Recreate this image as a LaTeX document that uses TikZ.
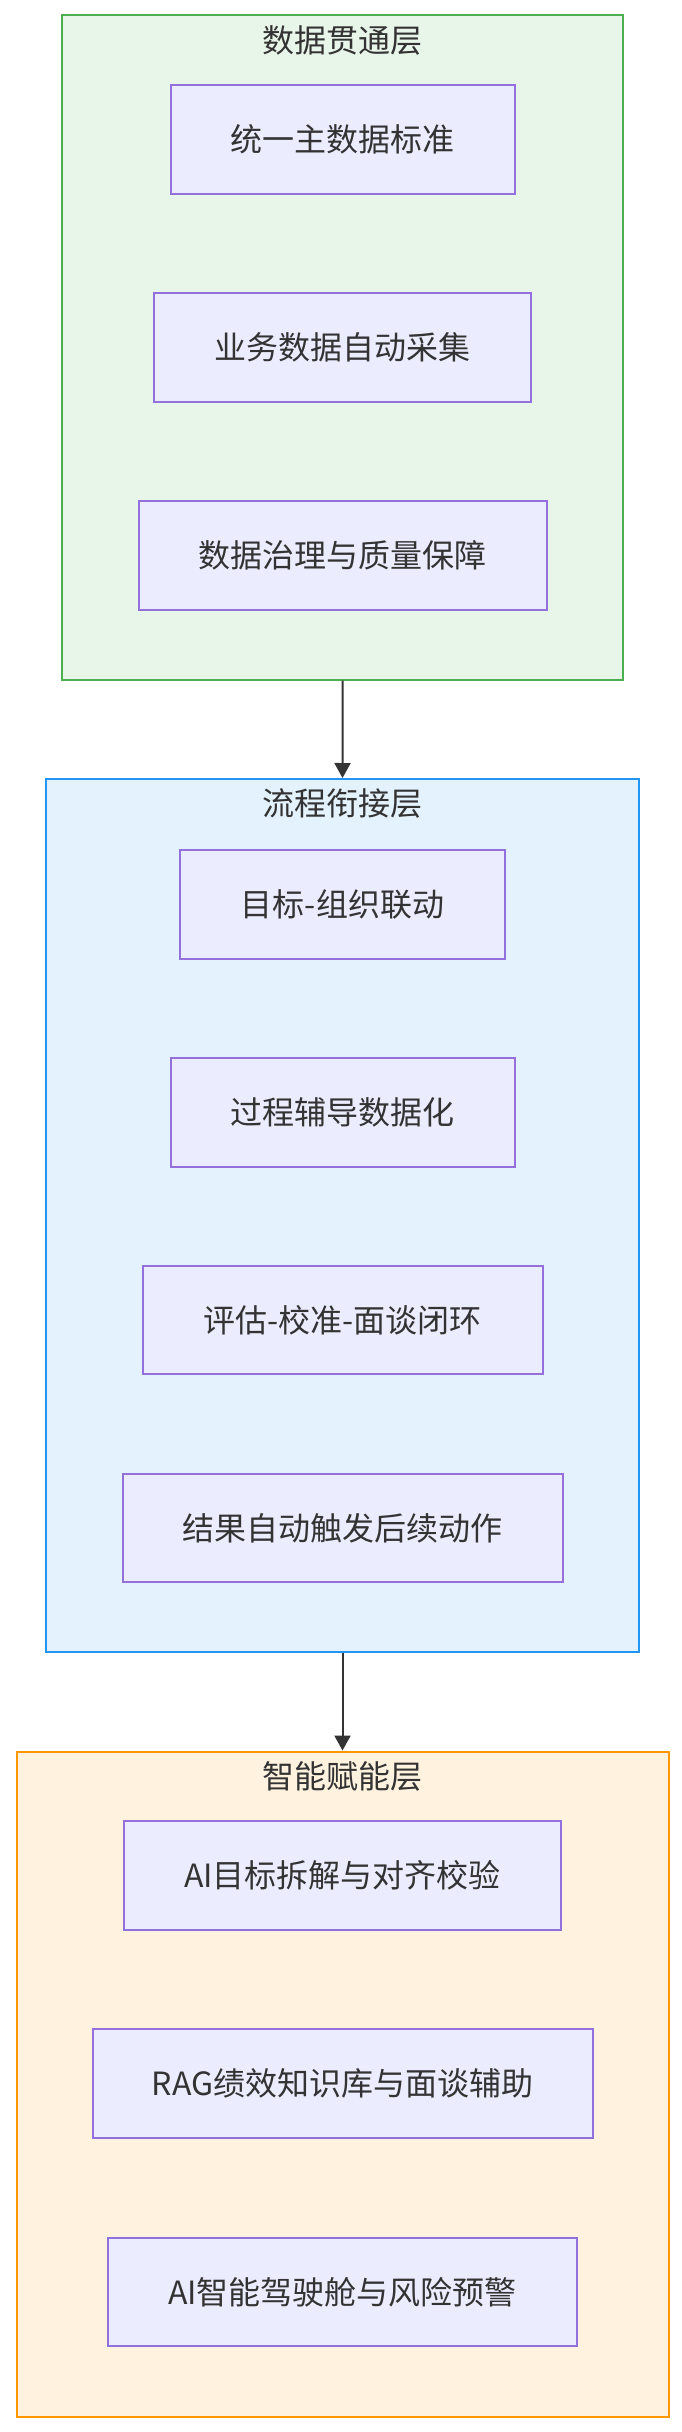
\documentclass[tikz,border=0pt]{standalone}
\usepackage{fontspec}
\setmainfont{Noto Sans CJK SC}
\usetikzlibrary{arrows.meta}
\definecolor{txt}{HTML}{333333}
\definecolor{nodeF}{HTML}{ECECFF}
\definecolor{nodeS}{HTML}{9370DB}
\definecolor{gF}{HTML}{E8F5E9}
\definecolor{gS}{HTML}{4CAF50}
\definecolor{bF}{HTML}{E3F2FD}
\definecolor{bS}{HTML}{2196F3}
\definecolor{oF}{HTML}{FFF3E0}
\definecolor{oS}{HTML}{FF9800}
\begin{document}
\begin{tikzpicture}[x=1pt,y=-1pt,
  item/.style={draw=nodeS, fill=nodeF, line width=2pt, text=txt,
    font=\fontsize{32}{38}\selectfont, inner sep=0pt, minimum height=108.5pt},
  cluster/.style={line width=2pt, inner sep=0pt},
  ttl/.style={text=txt, font=\fontsize{32}{38}\selectfont, inner sep=0pt},
  arr/.style={draw=txt, line width=2pt, -{Triangle[length=15pt,width=16pt]}}]
\useasboundingbox (0,0) rectangle (681,2432);
\fill[white] (0,0) rectangle (681,2432);
% clusters
\node[cluster, draw=gS, fill=gF, minimum width=561.4pt, minimum height=664pt] (g) at (342.7,347.5) {};
\node[cluster, draw=bS, fill=bF, minimum width=593pt, minimum height=873pt] (b) at (342.5,1215.5) {};
\node[cluster, draw=oS, fill=oF, minimum width=652pt, minimum height=665pt] (o) at (342.5,2084) {};
% titles
\node[ttl] (gt) at (342.5,40) {数据贯通层};
\node[ttl] (bt) at (342.5,803) {流程衔接层};
\node[ttl] (ot) at (342.5,1776) {智能赋能层};
% items
\node[item, minimum width=344pt] (n1) at (342.5,139.5) {统一主数据标准};
\node[item, minimum width=377pt] (n2) at (342.5,347.5) {业务数据自动采集};
\node[item, minimum width=408pt] (n3) at (342.5,555.5) {数据治理与质量保障};
\node[item, minimum width=325pt] (b1) at (342.5,904.5) {目标-组织联动};
\node[item, minimum width=344pt] (b2) at (342.5,1112.5) {过程辅导数据化};
\node[item, minimum width=400pt] (b3) at (342.5,1320) {评估-校准-面谈闭环};
\node[item, minimum width=440pt] (b4) at (342.5,1528) {结果自动触发后续动作};
\node[item, minimum width=437.5pt] (o1) at (342.5,1875.5) {AI目标拆解与对齐校验};
\node[item, minimum width=500pt] (o2) at (342.5,2083.5) {RAG绩效知识库与面谈辅助};
\node[item, minimum width=468.5pt] (o3) at (342.5,2292) {AI智能驾驶舱与风险预警};
% arrows
\draw[arr] (g.south) -- (b.north);
\draw[arr] (b.south) -- (o.north);
\end{tikzpicture}
\end{document}
